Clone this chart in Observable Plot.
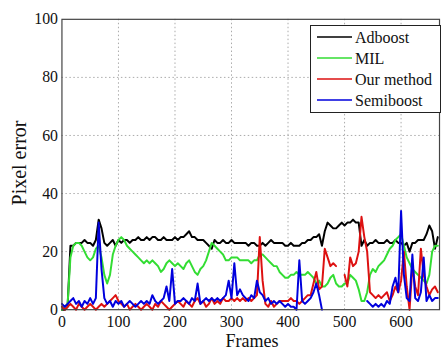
<!DOCTYPE html>
<html>
<head>
<meta charset="utf-8">
<script src="https://cdn.jsdelivr.net/npm/d3@7"></script>
<script src="https://cdn.jsdelivr.net/npm/@observablehq/plot@0.6"></script>
<style>
  html, body { margin: 0; padding: 0; background: #fff; overflow: hidden; }
  #wrap { position: relative; width: 441px; height: 352px; overflow: hidden; font-family: "Liberation Serif", "Times New Roman", Tinos, "DejaVu Serif", serif; }
  #chart { position: absolute; left: 0; top: 0; }
  .lbl { position: absolute; color: #111; white-space: nowrap; line-height: 1; }
  svg text { font-family: "Liberation Serif", "Times New Roman", Tinos, "DejaVu Serif", serif; }
</style>
</head>
<body>
<div id="wrap">
  <div id="chart"></div>
  <div class="lbl" id="xlabel" style="left:252px; top:332px; font-size:18px; transform:translateX(-50%);">Frames</div>
  <div class="lbl" id="ylabel" style="left:19px; top:163px; font-size:20px; transform:translate(-50%,-50%) rotate(-90deg);">Pixel error</div>
  <div id="legend" style="position:absolute; left:310px; top:25px;"></div>
</div>
<script>
// Frames step of 5 (0..665)
const step = 5;
const seriesNames = ["Adboost", "MIL", "Our method", "Semiboost"];
const seriesColors = ["#000000", "#33dd33", "#dd1111", "#0000dd"];
const xTicks = [0, 100, 200, 300, 400, 500, 600];
const yTicks = [0, 20, 40, 60, 80, 100];

const adboost = [0,0,1,22,22,23,23,23,24,23,23,22,24,31,28,23,22,23,24,22,
  24,23,24,24,23,24,24,25,24,24,25,24,25,25,24,24,25,24,24,24,
  25,24,25,25,26,27,25,25,24,24,24,23,22,21,24,23,23,24,23,23,
  24,23,23,23,23,23,22,23,23,22,22,23,22,23,24,23,23,23,23,22,
  22,23,22,22,22,23,23,24,24,25,25,26,22,27,30,29,28,28,29,30,
  29,30,30,31,30,30,22,24,22,23,23,24,23,23,23,24,23,23,24,23,
  23,22,23,20,23,23,24,24,24,26,29,27,21,25];

const mil = [0,1,2,18,22,23,23,22,20,18,17,18,21,22,18,12,9,12,19,22,
  24,25,24,22,21,20,19,18,17,16,17,16,17,16,15,13,14,16,17,16,
  15,16,15,14,16,17,15,13,12,14,15,17,20,23,22,21,20,19,17,17,
  18,18,18,17,17,17,17,16,17,17,19,19,18,17,16,15,15,13,12,11,
  11,12,12,13,12,12,12,13,12,11,9,10,8,8,9,11,12,9,8,8,
  9,9,12,11,10,7,3,3,6,12,14,13,15,16,17,19,21,22,24,25,
  26,22,18,16,14,13,12,11,10,9,12,20,22,22];

const ours = [1,0,1,2,1,0,2,1,0,1,2,1,0,1,2,1,2,3,4,5,
  3,2,1,2,0,1,2,1,0,1,2,1,0,2,1,3,2,1,0,1,
  2,3,2,1,3,2,1,3,4,2,3,1,2,4,2,3,2,4,3,3,
  4,3,4,3,4,3,4,3,4,5,25,10,2,1,3,1,2,3,3,3,
  3,4,3,3,2,3,4,5,5,9,13,7,8,21,18,15,16,15,null,null,
  12,8,18,15,16,20,32,25,20,6,5,4,5,4,5,6,3,5,8,6,
  10,20,8,0,15,8,5,21,12,8,5,7,8,6];

const semi = [2,1,2,3,4,2,3,1,3,2,4,2,4,30,14,4,2,3,1,3,
  2,3,1,2,3,2,1,2,3,2,3,2,5,3,2,3,4,8,3,14,
  2,3,3,4,3,2,4,3,9,2,3,4,3,4,3,4,3,4,5,10,
  4,16,5,7,5,4,3,5,4,10,6,5,3,4,2,3,2,3,2,1,
  2,1,1,0,17,3,2,3,4,6,9,5,0,null,null,null,null,null,null,null,
  null,null,null,null,null,null,null,null,3,2,1,2,1,2,1,3,2,8,11,6,
  34,12,4,3,19,4,3,6,18,3,5,3,4,4];

const allSeries = [adboost, mil, ours, semi];
const rows = [];
allSeries.forEach((vals, k) => {
  vals.forEach((v, i) => rows.push({frame: i * step, value: v, series: seriesNames[k]}));
});

const serif = '"Liberation Serif", "Times New Roman", Tinos, "DejaVu Serif", serif';

const plot = Plot.plot({
  width: 445,
  height: 352,
  marginLeft: 62,
  marginRight: 2,
  marginTop: 19,
  marginBottom: 40,
  style: {fontFamily: serif, fontSize: "16px", background: "white", color: "#111"},
  x: {domain: [0, 668], ticks: xTicks, tickSize: 0, tickPadding: 6, label: null},
  y: {domain: [0, 100], ticks: yTicks, tickSize: 0, tickPadding: 4, label: null},
  color: {domain: seriesNames, range: seriesColors},
  marks: [
    Plot.ruleX(xTicks.filter(d => d > 0), {stroke: "#aaa", strokeDasharray: "1.5,2.5", strokeWidth: 1}),
    Plot.ruleY(yTicks.filter(d => d > 0 && d < 100), {stroke: "#aaa", strokeDasharray: "1.5,2.5", strokeWidth: 1}),
    Plot.line(rows, {x: "frame", y: "value", z: "series", stroke: "series", strokeWidth: 2, curve: "linear"}),
    Plot.frame({stroke: "#444", strokeWidth: 1.2})
  ]
});
document.getElementById("chart").appendChild(plot);

// legend
const lg = d3.select("#legend").append("svg").attr("width", 131).attr("height", 88);
lg.append("rect").attr("x", 0.5).attr("y", 0.5).attr("width", 130).attr("height", 87)
  .attr("fill", "white").attr("stroke", "#222").attr("stroke-width", 1);
seriesNames.forEach((name, i) => {
  const cy = 12 + i * 21;
  lg.append("line").attr("x1", 7).attr("x2", 42).attr("y1", cy).attr("y2", cy)
    .attr("stroke", seriesColors[i]).attr("stroke-width", 1.6);
  lg.append("text").attr("x", 45).attr("y", cy).attr("dy", "0.35em")
    .attr("font-family", serif).attr("font-size", 16).attr("fill", "#111").text(name);
});
</script>
</body>
</html>
